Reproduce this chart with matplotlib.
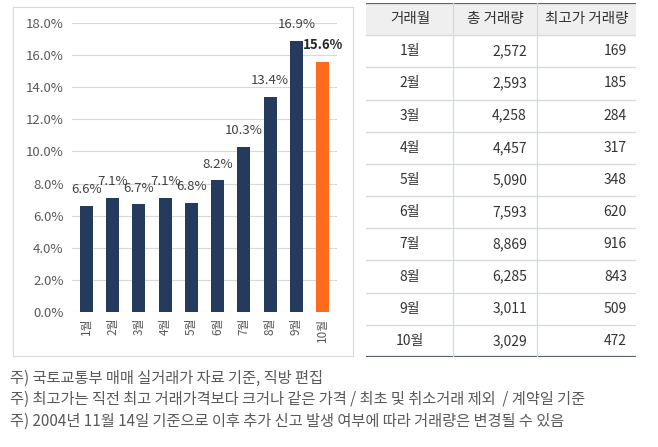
import numpy as np
import matplotlib
matplotlib.use('Agg')
import matplotlib.pyplot as plt
from matplotlib.patches import Rectangle

plt.rcParams['font.family'] = ['Noto Sans CJK KR', 'DejaVu Sans']

months = ['1월', '2월', '3월', '4월', '5월', '6월', '7월', '8월', '9월', '10월']
share = [6.6, 7.1, 6.7, 7.1, 6.8, 8.2, 10.3, 13.4, 16.9, 15.6]
total_vol = ['2,572', '2,593', '4,258', '4,457', '5,090', '7,593', '8,869', '6,285', '3,011', '3,029']
top_vol = ['169', '185', '284', '317', '348', '620', '916', '843', '509', '472']
headers = ['거래월', '총 거래량', '최고가 거래량']
notes = ['주) 국토교통부 매매 실거래가 자료 기준, 직방 편집',
         '주) 최고가는 직전 최고 거래가격보다 크거나 같은 가격 / 최초 및 취소거래 제외  / 계약일 기준',
         '주) 2004년 11월 14일 기준으로 이후 추가 신고 발생 여부에 따라 거래량은 변경될 수 있음']

W, H = 658, 447
fig = plt.figure(figsize=(W / 100, H / 100), dpi=100)

def px_axes(x0, y0, x1, y1):
    return fig.add_axes([x0 / W, 1 - y1 / H, (x1 - x0) / W, (y1 - y0) / H])

# chart frame
frame = px_axes(13, 7, 353, 356)
frame.set_xticks([])
frame.set_yticks([])
for s in frame.spines.values():
    s.set_color('#d9d9d9')
    s.set_linewidth(0.8)
frame.patch.set_alpha(0)

navy = '#243b5e'
orange = '#ff6b1a'
ax = px_axes(72, 23, 337, 312)
x = np.arange(len(months))
colors = [navy] * 9 + [orange]
ax.bar(x, share, width=0.5, color=colors, zorder=3)
ax.set_ylim(0, 18)
ax.set_xlim(-0.55, len(months) - 0.45)
ax.set_yticks(np.arange(0, 18.1, 2))
ax.set_yticklabels([f'{v:.1f}%' for v in np.arange(0, 18.1, 2)], fontsize=9.5, color='#595959')
ax.yaxis.grid(True, color='#d9d9d9', linewidth=0.8, zorder=0)
ax.set_xticks(x)
ax.set_xticklabels(months, rotation=90, fontsize=8.5, color='#595959')
ax.tick_params(length=0, pad=6)
ax.tick_params(axis='x', pad=4)
for s in ax.spines.values():
    s.set_visible(False)
ax.patch.set_alpha(0)
for i, v in enumerate(share):
    last = i == len(share) - 1
    ax.text(i, v + 1.0, f'{v}%', ha='center', va='center', fontsize=9.5,
            fontweight='bold' if last else 'normal',
            color='#262626' if last else '#404040')

# table
tb = px_axes(366, 3, 636, 357)
nrows = len(months) + 1
tb.set_xlim(366, 636)
tb.set_ylim(nrows, 0)
tb.axis('off')
tb.add_patch(Rectangle((366, 0), 270, 1, color='#efefef', zorder=0))
for r in range(1, nrows):
    tb.axhline(r, color='#d5d8e0', linewidth=0.9)
tb.axhline(0, color='#5a6272', linewidth=1.6)
tb.axhline(nrows, color='#5a6272', linewidth=1.6)
for cx in [453, 537]:
    tb.axvline(cx, color='#d5d8e0', linewidth=0.9)
hdr_x = [410, 495, 587]
for hx, h in zip(hdr_x, headers):
    tb.text(hx, 0.5, h, ha='center', va='center', fontsize=10.5, color='#333333')
for r, (m, t, c) in enumerate(zip(months, total_vol, top_vol), start=1):
    tb.text(410, r + 0.5, m, ha='center', va='center', fontsize=10, color='#333333')
    tb.text(527, r + 0.5, t, ha='right', va='center', fontsize=10, color='#333333')
    tb.text(627, r + 0.5, c, ha='right', va='center', fontsize=10, color='#333333')

for i, n in enumerate(notes):
    fig.text(10 / W, 1 - (378 + i * 21.5) / H, n, ha='left', va='center', fontsize=11, color='#595959')

fig.savefig('out.png', dpi=100)
